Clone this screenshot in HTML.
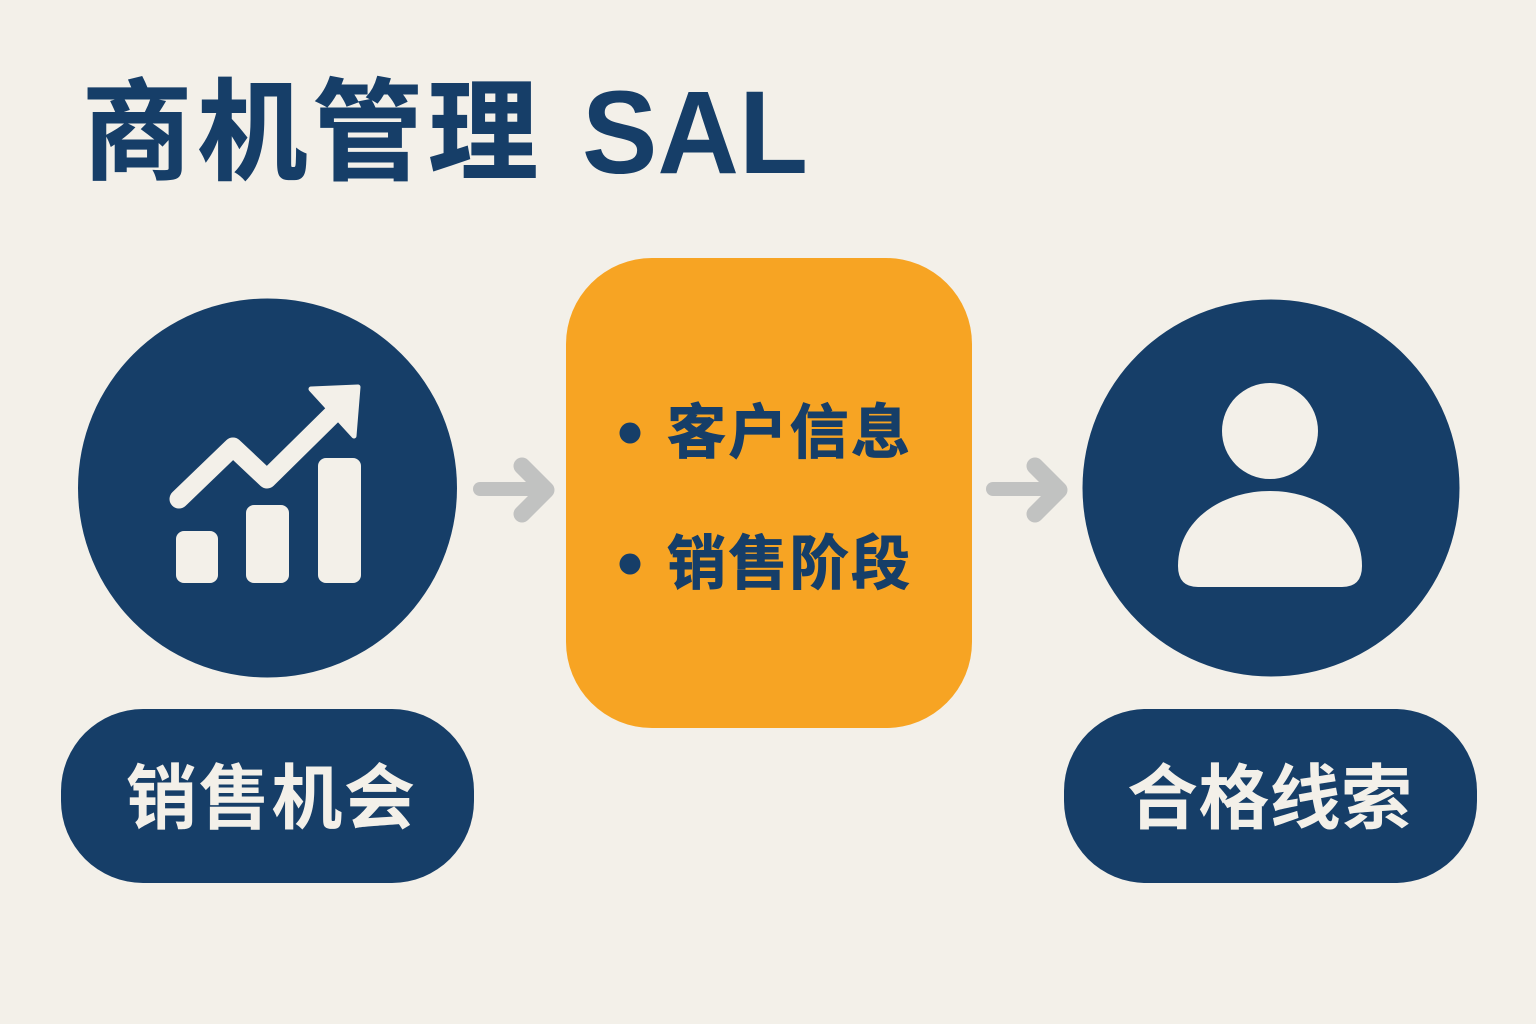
<!DOCTYPE html>
<html lang="zh-CN">
<head>
<meta charset="utf-8">
<style>
html,body{margin:0;padding:0;background:#f3f0e9;}
svg{display:block;}
text{font-family:"Noto Sans CJK SC","Liberation Sans",sans-serif;font-weight:700;}
text.lat{font-family:"Liberation Sans","Noto Sans CJK SC",sans-serif;}
</style>
</head>
<body>
<svg width="1536" height="1024" viewBox="0 0 1536 1024" xmlns="http://www.w3.org/2000/svg">
<rect width="1536" height="1024" fill="#f3f0e9"/>
<text x="82" y="171" font-size="110" fill="#163e68" stroke="#163e68" stroke-width="1" textLength="456" lengthAdjust="spacing">商机管理</text>
<text class="lat" x="582" y="173" font-size="118" fill="#163e68" textLength="226" lengthAdjust="spacingAndGlyphs">SAL</text>

<circle cx="267.500" cy="488" r="189.500" fill="#163e68"/>
<circle cx="1271" cy="488" r="188.500" fill="#163e68"/>
<rect x="566" y="258" width="406" height="470" rx="86" fill="#f7a423"/>

<rect x="61" y="709" width="413" height="174" rx="82" fill="#163e68"/>
<rect x="1064" y="709" width="413" height="174" rx="82" fill="#163e68"/>

<!-- chart icon -->
<rect x="176" y="531" width="42" height="52" rx="8" fill="#f3f0e9"/>
<rect x="246" y="505" width="43" height="78" rx="8" fill="#f3f0e9"/>
<rect x="318" y="458" width="43" height="125" rx="8" fill="#f3f0e9"/>
<polyline points="179,499 233,447 267,479 336,411" fill="none" stroke="#f3f0e9" stroke-width="19" stroke-linecap="round" stroke-linejoin="round"/>
<polygon points="311,389 358,387 354,436" fill="#f3f0e9" stroke="#f3f0e9" stroke-width="5" stroke-linejoin="round"/>

<!-- person icon -->
<circle cx="1270" cy="431" r="48" fill="#f3f0e9"/>
<path d="M1198 587 Q1178 587 1178 566 C1178 520 1222 491 1270 491 C1318 491 1362 520 1362 566 Q1362 587 1342 587 Z" fill="#f3f0e9"/>

<!-- arrows -->
<g fill="none" stroke="#c1c2c1" stroke-linecap="round" stroke-linejoin="round">
<path d="M480 489 H544" stroke-width="14"/>
<path d="M522 466 L546 490 L522 514" stroke-width="17"/>
<path d="M993 489 H1057" stroke-width="14"/>
<path d="M1035 466 L1059 490 L1035 514" stroke-width="17"/>
</g>

<circle cx="630" cy="433" r="10.500" fill="#163e68"/>
<circle cx="630" cy="564" r="10.500" fill="#163e68"/>
<text x="667" y="453" font-size="59" fill="#163e68" stroke="#163e68" stroke-width="1" textLength="243" lengthAdjust="spacing">客户信息</text>
<text x="667" y="584" font-size="59" fill="#163e68" stroke="#163e68" stroke-width="1" textLength="243" lengthAdjust="spacing">销售阶段</text>

<text x="126" y="823" font-size="71" fill="#f3f0e9" textLength="289" lengthAdjust="spacing">销售机会</text>
<text x="1127" y="823" font-size="71" fill="#f3f0e9" textLength="285" lengthAdjust="spacing">合格线索</text>
</svg>
</body>
</html>
